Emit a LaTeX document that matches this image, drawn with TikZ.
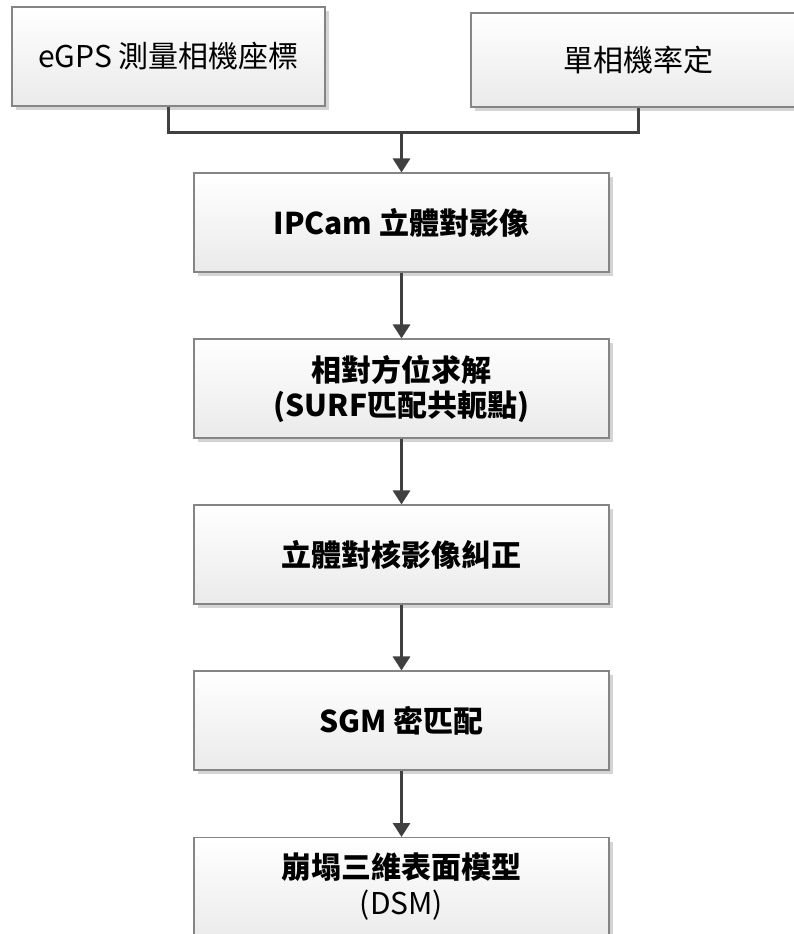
\documentclass[tikz,border=0pt]{standalone}
\usepackage{fontspec}
\setmainfont{Noto Sans CJK TC}
\usetikzlibrary{arrows.meta,shadows}
\definecolor{linec}{HTML}{404040}
\definecolor{borderc}{HTML}{858585}
\definecolor{boxbot}{HTML}{EAEAEA}
\definecolor{shadowc}{HTML}{D4D4D4}
\tikzset{
  flowbox/.style={draw=borderc, line width=1.1pt, top color=white, bottom color=boxbot,
    shading angle=0, minimum width=#1, minimum height=99pt, inner sep=0pt, align=center,
    font=\fontsize{30}{35}\selectfont,
    drop shadow={shadow xshift=4pt, shadow yshift=-4pt, fill=shadowc, opacity=1}},
  flowbox/.default=415pt,
  conn/.style={draw=linec, line width=3pt},
  arr/.style={conn, -{Triangle[width=17pt,length=14pt]}}
}
\begin{document}
\begin{tikzpicture}[x=1pt,y=-1pt]
\useasboundingbox (0,0) rectangle (793,934);
\node[flowbox=313pt] (b1) at (168.5,56.5) {eGPS 測量相機座標};
\node[flowbox=334pt, minimum height=94pt] (b2) at (638,60) {單相機率定};
\node[flowbox, font=\fontsize{30}{35}\selectfont\bfseries] (b3) at (401.5,222.5) {IPCam 立體對影像};
\node[flowbox, font=\fontsize{30}{35}\selectfont\bfseries] (b4) at (401.5,388.5) {相對方位求解\\(SURF匹配共軛點)};
\node[flowbox, font=\fontsize{30}{35}\selectfont\bfseries] (b5) at (401.5,554.5) {立體對核影像糾正};
\node[flowbox, font=\fontsize{30}{35}\selectfont\bfseries] (b6) at (401.5,720.5) {SGM 密匹配};
\node[flowbox, anchor=north, minimum height=105pt] (b7) at (401.5,837) {};
\node[font=\fontsize{30}{35}\selectfont\bfseries] (t7a) at (401.5,867) {崩塌三維表面模型};
\node[font=\fontsize{30}{35}\selectfont] (t7b) at (401.5,905) {(DSM)};
\coordinate (jn) at (401.5,132);
\draw[conn] (b1.south) |- (jn) -| (b2.south);
\draw[arr] (jn) -- (b3.north);
\draw[arr] (b3) -- (b4);
\draw[arr] (b4) -- (b5);
\draw[arr] (b5) -- (b6);
\draw[arr] (b6) -- (b7);
\end{tikzpicture}
\end{document}
